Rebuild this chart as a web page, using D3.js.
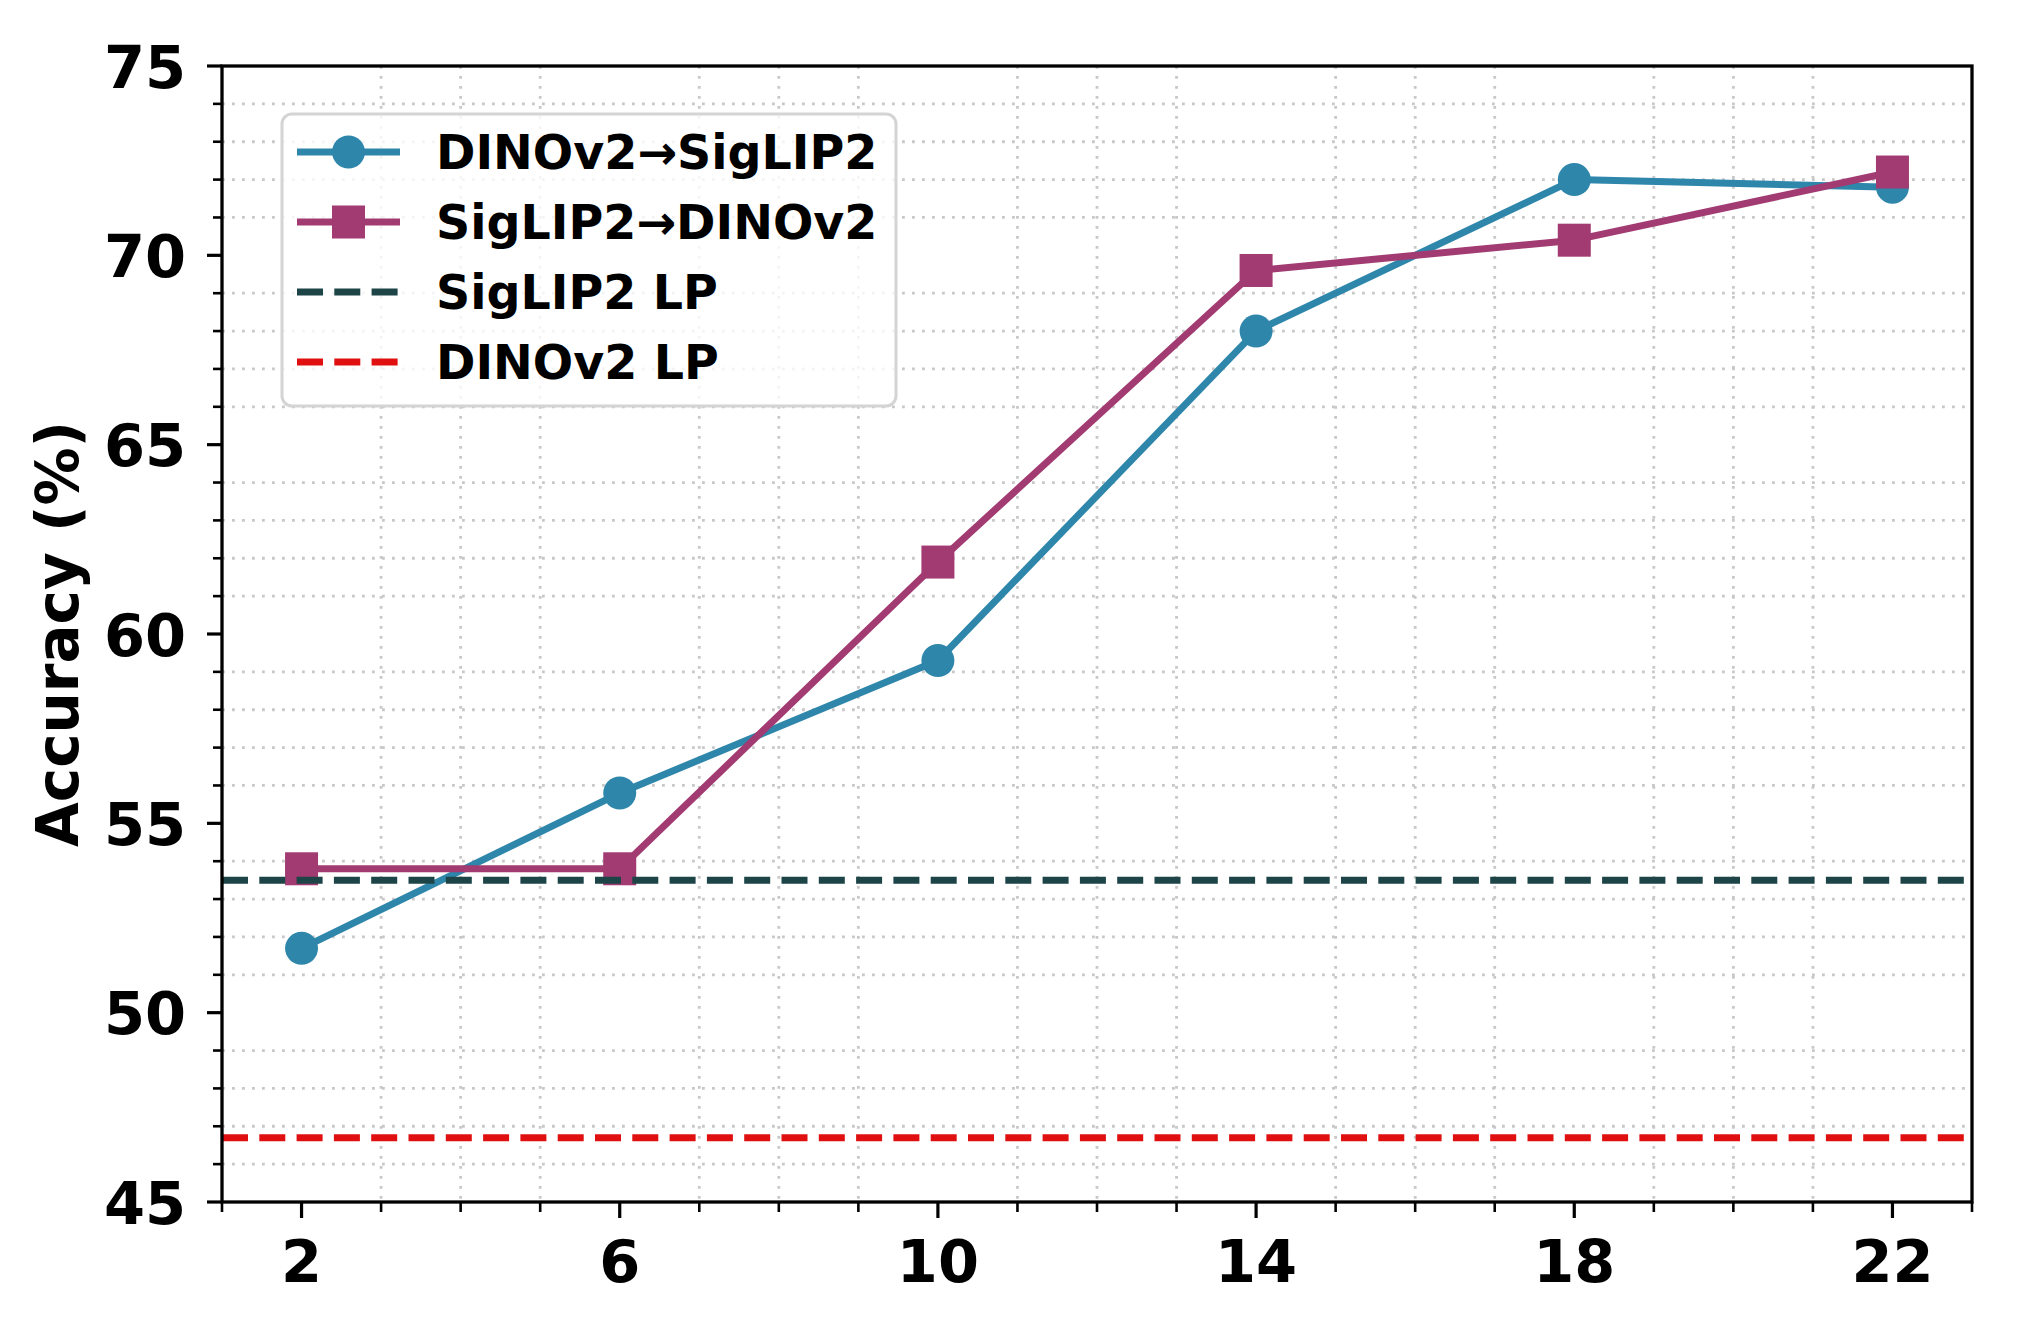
<!DOCTYPE html>
<html>
<head>
<meta charset="utf-8">
<script src="https://cdn.jsdelivr.net/npm/d3@7"></script>
<style>
  html, body { margin: 0; padding: 0; background: #ffffff; }
  svg { display: block; }
  text { font-family: "DejaVu Sans", sans-serif; font-weight: bold; fill: #000; }
</style>
</head>
<body>
<div id="chart"></div>
<script>
// ---------- data ----------
const layers = [2, 6, 10, 14, 18, 22];
const dinoToSiglip = [51.7, 55.8, 59.3, 68.0, 72.0, 71.8];
const siglipToDino = [53.8, 53.8, 61.9, 69.6, 70.4, 72.2];
const siglipLP = 53.5;
const dinoLP = 46.7;
const xTicks = [2, 6, 10, 14, 18, 22];
const yTicks = [45, 50, 55, 60, 65, 70, 75];
const seriesNames = ["DINOv2\u2192SigLIP2", "SigLIP2\u2192DINOv2", "SigLIP2 LP", "DINOv2 LP"];
const colors = ["#2E86AB", "#A23B72", "#1D4446", "#E01010"];

// ---------- layout ----------
const W = 2036, H = 1342;
const L = 222, R = 1972, T = 66, B = 1202;

const svg = d3.select("#chart").append("svg").attr("width", W).attr("height", H);
svg.append("rect").attr("width", W).attr("height", H).attr("fill", "#fff");

const x = d3.scaleLinear().domain([1, 23]).range([L, R]);
const y = d3.scaleLinear().domain([45, 75]).range([B, T]);

// minor grid (only at minor positions)
const xMinor = d3.range(1, 24).filter(v => !xTicks.includes(v));
const yMinor = d3.range(45, 76).filter(v => v % 5 !== 0);
const grid = svg.append("g");
grid.selectAll(".gx").data(xMinor.filter(v => v > 1 && v < 23)).join("line")
  .attr("x1", d => x(d)).attr("x2", d => x(d)).attr("y1", T).attr("y2", B)
  .attr("stroke", "#c8c8c8").attr("stroke-width", 2.8).attr("stroke-dasharray", "2.8 7.2");
grid.selectAll(".gy").data(yMinor).join("line")
  .attr("y1", d => y(d)).attr("y2", d => y(d)).attr("x1", L).attr("x2", R)
  .attr("stroke", "#c8c8c8").attr("stroke-width", 2.8).attr("stroke-dasharray", "2.8 7.2");

// ---------- series ----------
const line = d3.line().x(d => x(d[0])).y(d => y(d[1]));
const ptsA = layers.map((l, i) => [l, dinoToSiglip[i]]);
const ptsB = layers.map((l, i) => [l, siglipToDino[i]]);
const LW = 7;

const plot = svg.append("g");
plot.append("path").attr("d", line(ptsA)).attr("fill", "none")
  .attr("stroke", colors[0]).attr("stroke-width", LW).attr("stroke-linejoin", "round");
plot.selectAll(".ca").data(ptsA).join("circle")
  .attr("cx", d => x(d[0])).attr("cy", d => y(d[1])).attr("r", 16.5).attr("fill", colors[0]);

plot.append("path").attr("d", line(ptsB)).attr("fill", "none")
  .attr("stroke", colors[1]).attr("stroke-width", LW).attr("stroke-linejoin", "round");
const sq = 33;
plot.selectAll(".sb").data(ptsB).join("rect")
  .attr("x", d => x(d[0]) - sq / 2).attr("y", d => y(d[1]) - sq / 2)
  .attr("width", sq).attr("height", sq).attr("fill", colors[1]);

plot.append("line").attr("x1", L).attr("x2", R).attr("y1", y(siglipLP)).attr("y2", y(siglipLP))
  .attr("stroke", colors[2]).attr("stroke-width", 7).attr("stroke-dasharray", "26 11.3");
plot.append("line").attr("x1", L).attr("x2", R).attr("y1", y(dinoLP)).attr("y2", y(dinoLP))
  .attr("stroke", colors[3]).attr("stroke-width", 7).attr("stroke-dasharray", "26 11.3");

// ---------- axes ----------
const ax = svg.append("g");
// minor ticks
ax.selectAll(".mx").data(xMinor).join("line")
  .attr("x1", d => x(d)).attr("x2", d => x(d)).attr("y1", B).attr("y2", B + 10)
  .attr("stroke", "#000").attr("stroke-width", 2.6);
ax.selectAll(".my").data(yMinor).join("line")
  .attr("y1", d => y(d)).attr("y2", d => y(d)).attr("x1", L).attr("x2", L - 9)
  .attr("stroke", "#000").attr("stroke-width", 2.6);
// major ticks
ax.selectAll(".Mx").data(xTicks).join("line")
  .attr("x1", d => x(d)).attr("x2", d => x(d)).attr("y1", B).attr("y2", B + 16)
  .attr("stroke", "#000").attr("stroke-width", 3.2);
ax.selectAll(".My").data(yTicks).join("line")
  .attr("y1", d => y(d)).attr("y2", d => y(d)).attr("x1", L).attr("x2", L - 15)
  .attr("stroke", "#000").attr("stroke-width", 3.2);
// spines
ax.append("rect").attr("x", L).attr("y", T).attr("width", R - L).attr("height", B - T)
  .attr("fill", "none").attr("stroke", "#000").attr("stroke-width", 3.3);

// tick labels
const fs = 59;
ax.selectAll(".lx").data(xTicks).join("text")
  .attr("x", d => x(d)).attr("y", 1282).attr("text-anchor", "middle")
  .attr("font-size", fs).text(d => d);
ax.selectAll(".ly").data(yTicks).join("text")
  .attr("x", 186).attr("y", d => y(d) + 0.729 * fs / 2).attr("text-anchor", "end")
  .attr("font-size", fs).text(d => d);

// y label
svg.append("text").attr("transform", `translate(78, ${(T + B) / 2}) rotate(-90)`)
  .attr("text-anchor", "middle").attr("font-size", 58).text("Accuracy (%)");

// ---------- legend ----------
const lg = svg.append("g");
lg.append("rect").attr("x", 282).attr("y", 114).attr("width", 614).attr("height", 292)
  .attr("rx", 10).attr("fill", "#fff").attr("fill-opacity", 0.8)
  .attr("stroke", "#d4d4d4").attr("stroke-width", 3);
const rowY = [152, 222, 292, 362];
seriesNames.forEach((name, i) => {
  const cy = rowY[i];
  const h = lg.append("line").attr("x1", 297).attr("x2", 400).attr("y1", cy).attr("y2", cy)
    .attr("stroke", colors[i]);
  if (i < 2) {
    h.attr("stroke-width", LW);
    if (i === 0) lg.append("circle").attr("cx", 348.5).attr("cy", cy).attr("r", 16.5).attr("fill", colors[0]);
    else lg.append("rect").attr("x", 348.5 - sq / 2).attr("y", cy - sq / 2).attr("width", sq).attr("height", sq).attr("fill", colors[1]);
  } else {
    h.attr("stroke-width", 7).attr("stroke-dasharray", "26 11.3");
  }
  lg.append("text").attr("x", 436).attr("y", cy + 0.729 * 48 / 2).attr("font-size", 47.5).text(name);
});
</script>
</body>
</html>
